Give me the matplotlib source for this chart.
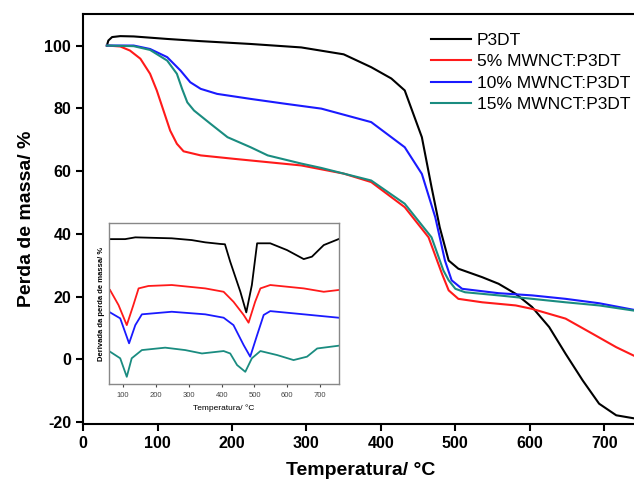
import matplotlib.pyplot as plt

plt.rcParams['font.family'] = ['Liberation Sans', 'DejaVu Sans']
plt.rcParams['axes.unicode_minus'] = False

# ───── TGA data (main plot) ─────
p3dt_x = [32, 34, 39, 50, 68, 113, 158, 225, 293, 350, 387, 414, 432, 455, 468, 479,
          491, 504, 536, 558, 581, 603, 626, 648, 671, 693, 716, 743]
p3dt_y = [100, 101.6, 102.7, 103, 102.9, 102.1, 101.4, 100.5, 99.4, 97.2, 93.1, 89.5,
          85.7, 70.8, 54.9, 42.1, 31.5, 28.9, 26.2, 24.1, 20.9, 16.7, 10.3, 1.8, -6.7,
          -14.1, -17.8, -18.9]

mw5_x = [32, 50, 63, 77, 90, 99, 108, 117, 126, 135, 158, 203, 250, 293, 350, 387,
         432, 464, 482, 491, 504, 536, 581, 603, 648, 684, 716, 744]
mw5_y = [100, 99.7, 98.4, 95.8, 91, 85.7, 79.3, 72.9, 68.7, 66.3, 65, 63.9, 62.8,
         61.8, 59.2, 56.5, 48.5, 38.9, 27.3, 22, 19.3, 18.2, 17.2, 16.1, 13, 8.2, 3.9, 0.7]

mw10_x = [32, 68, 90, 113, 131, 144, 158, 180, 225, 270, 320, 387, 432, 455, 473,
          486, 495, 509, 558, 603, 648, 693, 744]
mw10_y = [100, 100, 98.9, 96.3, 92, 88.3, 86.2, 84.6, 83, 81.5, 79.9, 75.6, 67.6,
          59.1, 45.3, 31.5, 25.2, 22.5, 21.1, 20.4, 19.3, 17.9, 15.6]

mw15_x = [32, 68, 90, 113, 126, 133, 140, 149, 171, 194, 225, 248, 293, 320, 387,
          432, 468, 484, 491, 500, 513, 558, 603, 648, 693, 744]
mw15_y = [100, 99.8, 98.6, 95.2, 91, 86.2, 81.9, 79.3, 75.1, 70.8, 67.6, 65, 62.4,
          61, 57, 49.6, 38.9, 28.3, 25.2, 22.5, 21.4, 20.4, 19.3, 18.2, 17.2, 15.4]

# ───── DTG data (inset, arbitrary offset units) ─────
dtg_p3dt_x = [60, 106, 137, 248, 309, 350, 396, 410, 426, 457, 475, 492, 508, 548,
              599, 650, 675, 711, 756]
dtg_p3dt_y = [90, 90, 91.1, 90.5, 89.4, 88, 87, 86.8, 76, 57.3, 44.5, 61.5, 87.4,
              87.4, 83.2, 77.6, 79.1, 86.3, 90]

dtg_5_x = [60, 86, 111, 131, 147, 177, 248, 350, 406, 436, 467, 482, 502, 518, 548,
           650, 711, 756]
dtg_5_y = [58.4, 49, 36.6, 49, 59.4, 60.9, 61.5, 59.4, 57.3, 51.1, 42.9, 38.1, 51.1,
           59.4, 61.5, 59.4, 57.3, 58.4]

dtg_10_x = [60, 91, 118, 137, 157, 248, 350, 406, 436, 467, 487, 508, 528, 548, 650, 756]
dtg_10_y = [44.5, 40.8, 25.3, 36.6, 43.3, 44.9, 43.3, 41.2, 36.6, 24.2, 17, 30.4,
            42.9, 45.3, 43.3, 41.2]

dtg_15_x = [60, 91, 111, 126, 157, 228, 289, 340, 406, 426, 447, 472, 492, 518, 569,
            619, 660, 691, 756]
dtg_15_y = [20.1, 16, 4.5, 16, 21.1, 22.6, 21.1, 19, 20.5, 19, 11.8, 7.6, 16, 20.5,
            18, 14.9, 17, 22.1, 23.8]

labels = ['P3DT', '5% MWNCT:P3DT', '10% MWNCT:P3DT', '15% MWNCT:P3DT']
colors = ['black', '#ff1a1a', '#1a1aff', '#1a8c80']
x_ticks = [0, 100, 200, 300, 400, 500, 600, 700]
y_ticks = [-20, 0, 20, 40, 60, 80, 100]
inset_ticks = [100, 200, 300, 400, 500, 600, 700]

fig = plt.figure(figsize=(6.34, 4.88), dpi=100)
ax = fig.add_axes([0.131, 0.131, 0.875, 0.840])

series = [(p3dt_x, p3dt_y), (mw5_x, mw5_y), (mw10_x, mw10_y), (mw15_x, mw15_y)]
for (xs, ys), c, lab in zip(series, colors, labels):
    ax.plot(xs, ys, color=c, lw=1.5, label=lab, solid_joinstyle='round')

ax.set_xlim(0, 745)
ax.set_ylim(-20.6, 110)
ax.set_xticks(x_ticks)
ax.set_yticks(y_ticks)
for side in ['left', 'bottom', 'top']:
    ax.spines[side].set_linewidth(1.5)
ax.spines['right'].set_visible(False)
ax.tick_params(width=1.5, length=5, labelsize=11.5, direction='out')
for t in ax.get_xticklabels() + ax.get_yticklabels():
    t.set_fontweight('bold')
ax.set_xlabel('Temperatura/ °C', fontsize=14, fontweight='bold', labelpad=8)
ax.set_ylabel('Perda de massa/ %', fontsize=14, fontweight='bold', labelpad=7)

ax.legend(loc='upper left', bbox_to_anchor=(0.628, 0.955), frameon=False,
          fontsize=12.5, handlelength=2.3, handletextpad=0.3, labelspacing=0.37,
          borderaxespad=0, borderpad=0)

# ───── Inset ─────
ins = fig.add_axes([0.172, 0.213, 0.363, 0.330])
dtg = [(dtg_p3dt_x, dtg_p3dt_y), (dtg_5_x, dtg_5_y), (dtg_10_x, dtg_10_y), (dtg_15_x, dtg_15_y)]
for (xs, ys), c in zip(dtg, colors):
    ins.plot(xs, ys, color=c, lw=1.3, solid_joinstyle='round')
ins.set_xlim(57, 758)
ins.set_ylim(0, 100)
ins.set_xticks(inset_ticks)
ins.set_yticks([])
for s in ins.spines.values():
    s.set_color('#888888')
    s.set_linewidth(1.0)
ins.tick_params(axis='x', labelsize=5.5, length=2, colors='#444444')
ins.set_xlabel('Temperatura/ °C', fontsize=6, labelpad=4)
ins.set_ylabel('Derivada da perda de massa/ %', fontsize=5.5, fontweight='bold', labelpad=3)

fig.savefig('out.png', dpi=100)
